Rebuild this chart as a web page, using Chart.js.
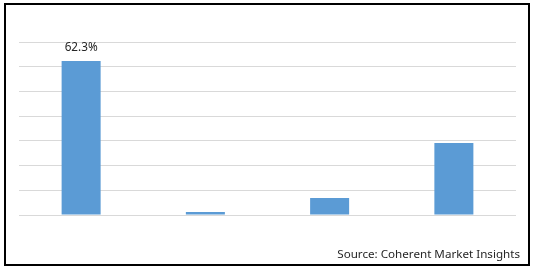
<!DOCTYPE html>
<html>
<head>
<meta charset="utf-8">
<script src="https://cdn.jsdelivr.net/npm/chart.js@4"></script>
<style>
  html, body { margin: 0; padding: 0; background: #ffffff; }
  #wrap { width: 535px; height: 270px; position: relative; }
</style>
</head>
<body>
<div id="wrap"><canvas id="chart"></canvas></div>
<script>
// дані графіка
const categories = ['Segment 1', 'Segment 2', 'Segment 3', 'Segment 4'];
const shares = [62.3, 1.2, 6.9, 29.1];
const labelled = [true, false, false, false];
const sourceText = 'Source: Coherent Market Insights';

// підбирає розмір шрифту під потрібну ширину тексту
function fitFont(ctx, text, width, family) {
  ctx.font = '12px ' + family;
  const size = 12 * width / ctx.measureText(text).width;
  return size.toFixed(2) + 'px ' + family;
}

// рамка, підпис над стовпчиком і джерело
const extras = {
  id: 'extras',
  afterDraw(chart) {
    const ctx = chart.ctx;
    const family = '"Noto Sans", sans-serif';
    ctx.save();
    ctx.strokeStyle = '#000000';
    ctx.lineWidth = 2;
    ctx.strokeRect(5, 4, 524, 261);

    ctx.fillStyle = '#262626';
    ctx.textAlign = 'center';
    ctx.textBaseline = 'middle';
    const meta = chart.getDatasetMeta(0);
    meta.data.forEach((bar, i) => {
      if (!labelled[i]) return;
      const txt = shares[i] + '%';
      ctx.font = fitFont(ctx, txt, 33, family);
      ctx.fillText(txt, bar.x, bar.y - 13);
    });

    ctx.textAlign = 'right';
    ctx.textBaseline = 'alphabetic';
    ctx.font = fitFont(ctx, sourceText, 183, family);
    ctx.fillText(sourceText, 520, 258);
    ctx.restore();
  }
};

new Chart(document.getElementById('chart'), {
  type: 'bar',
  data: {
    labels: categories,
    datasets: [{
      data: shares,
      backgroundColor: '#5b9bd5',
      borderWidth: 0,
      barPercentage: 0.314,
      categoryPercentage: 1
    }]
  },
  options: {
    responsive: true,
    maintainAspectRatio: false,
    animation: false,
    devicePixelRatio: 1,
    layout: { padding: { left: 19, right: 19, top: 42, bottom: 55 } },
    plugins: {
      legend: { display: false },
      tooltip: { enabled: false }
    },
    scales: {
      x: {
        display: false
      },
      y: {
        min: 0,
        max: 70,
        ticks: { display: false, stepSize: 10 },
        border: { display: false },
        grid: { color: '#d9d9d9', lineWidth: 1, drawTicks: false }
      }
    }
  },
  plugins: [extras]
});
</script>
</body>
</html>
